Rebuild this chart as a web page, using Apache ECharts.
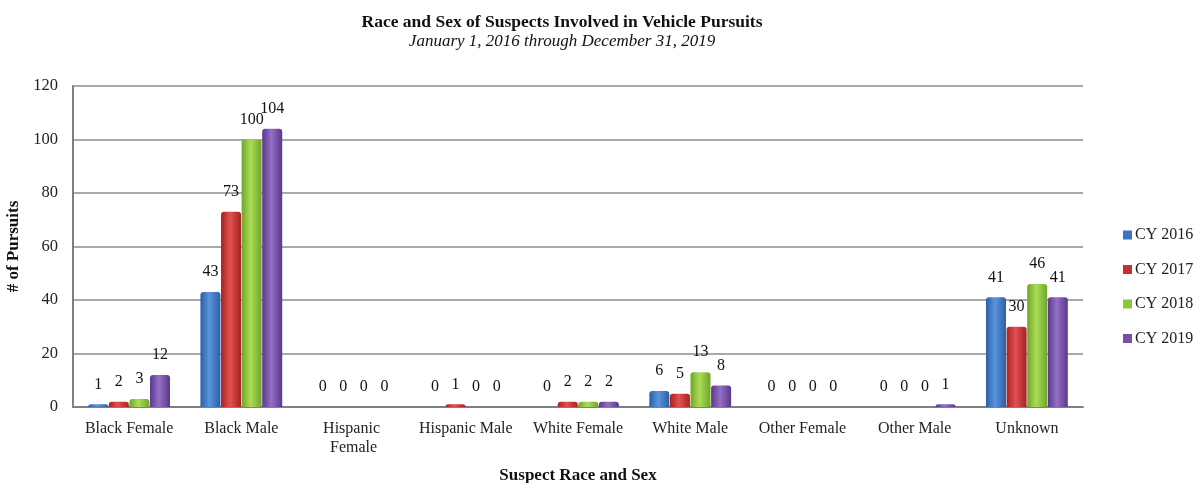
<!DOCTYPE html>
<html>
<head>
<meta charset="utf-8">
<script src="https://cdn.jsdelivr.net/npm/echarts@6/dist/echarts.min.js"></script>
<style>
  html, body { margin: 0; padding: 0; background: #ffffff; }
  #chart { width: 1199px; height: 483px; }
</style>
</head>
<body>
<div id="chart"></div>
<script>
// Suspect groups along the x axis
const categories = ['Black Female', 'Black Male', 'Hispanic Female', 'Hispanic Male',
  'White Female', 'White Male', 'Other Female', 'Other Male', 'Unknown'];

// Pursuit counts per calendar year
const cy2016 = [1, 43, 0, 0, 0, 6, 0, 0, 41];
const cy2017 = [2, 73, 0, 1, 2, 5, 0, 0, 30];
const cy2018 = [3, 100, 0, 0, 2, 13, 0, 0, 46];
const cy2019 = [12, 104, 0, 0, 2, 8, 0, 1, 41];

const seriesNames = ['CY 2016', 'CY 2017', 'CY 2018', 'CY 2019'];
const yTicks = { min: 0, max: 120, interval: 20 };

const FONT = '"Liberation Serif", "DejaVu Serif", serif';

// cylinder-like shading: dark edges, light middle
function shade(edge, mid) {
  return new echarts.graphic.LinearGradient(0, 0, 1, 0, [
    { offset: 0, color: edge },
    { offset: 0.45, color: mid },
    { offset: 1, color: edge }
  ]);
}
const palette = [
  { edge: '#2b5fa6', mid: '#5a95dc', flat: '#3a74c4' },
  { edge: '#a52222', mid: '#e35050', flat: '#c8302e' },
  { edge: '#6ea52a', mid: '#acdc56', flat: '#8cc43a' },
  { edge: '#5b378c', mid: '#9370c6', flat: '#7a4ea8' }
];

const seriesData = [cy2016, cy2017, cy2018, cy2019];

const chart = echarts.init(document.getElementById('chart'), null, { renderer: 'canvas' });

chart.setOption({
  backgroundColor: '#ffffff',
  animation: false,
  title: {
    text: 'Race and Sex of Suspects Involved in Vehicle Pursuits',
    subtext: 'January 1, 2016 through December 31, 2019',
    left: 557,
    textAlign: 'center',
    top: 8,
    itemGap: 2,
    textStyle: { fontFamily: FONT, fontWeight: 'bold', fontSize: 17.5, color: '#111' },
    subtextStyle: { fontFamily: FONT, fontStyle: 'italic', fontSize: 17, color: '#111' }
  },
  legend: {
    orient: 'vertical',
    left: 1118,
    top: 221,
    itemWidth: 9,
    itemHeight: 9,
    itemGap: 16.5,
    icon: 'rect',
    textStyle: { fontFamily: FONT, fontSize: 16, color: '#222', padding: [0, 0, 0, -2], lineHeight: 18 },
    data: seriesNames.map((n, i) => ({ name: n, itemStyle: { color: palette[i].flat } }))
  },
  grid: { left: 73, right: 116, top: 86, bottom: 76, containLabel: false, outerBoundsMode: 'none' },
  xAxis: {
    type: 'category',
    data: categories,
    name: 'Suspect Race and Sex',
    nameLocation: 'middle',
    nameGap: 60,
    nameTextStyle: { fontFamily: FONT, fontWeight: 'bold', fontSize: 17, color: '#111' },
    axisLine: { lineStyle: { color: '#808080', width: 2 } },
    axisTick: { show: false },
    axisLabel: {
      interval: 0,
      fontFamily: FONT, fontSize: 16, color: '#222', margin: 12,
      width: 102, overflow: 'break', lineHeight: 19
    }
  },
  yAxis: {
    type: 'value',
    min: yTicks.min,
    max: yTicks.max,
    interval: yTicks.interval,
    name: '# of Pursuits',
    nameLocation: 'middle',
    nameGap: 44,
    nameRotate: 90,
    nameTextStyle: { fontFamily: FONT, fontWeight: 'bold', fontSize: 17, color: '#111' },
    axisLine: { show: true, lineStyle: { color: '#808080', width: 2 } },
    axisTick: { show: false },
    axisLabel: { fontFamily: FONT, fontSize: 16.5, color: '#222', margin: 15 },
    splitLine: { lineStyle: { color: '#8c8c8c', width: 1.5 } }
  },
  series: seriesData.map((vals, i) => ({
    name: seriesNames[i],
    type: 'bar',
    data: vals,
    barWidth: 20,
    barGap: '3%',
    itemStyle: {
      color: shade(palette[i].edge, palette[i].mid),
      borderRadius: [3, 3, 0, 0]
    },
    label: {
      show: true,
      position: 'top',
      distance: 12,
      fontFamily: FONT,
      fontSize: 16,
      color: '#111'
    }
  }))
});
</script>
</body>
</html>
